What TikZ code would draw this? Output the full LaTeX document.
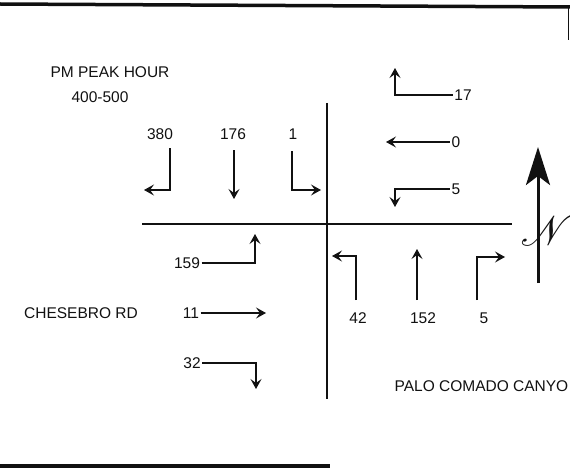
\documentclass[tikz,border=0pt]{standalone}
\usepackage{fontspec}
\setmainfont{Liberation Sans}
\usepackage{mathrsfs}
\usetikzlibrary{arrows.meta}
\definecolor{tcInk}{HTML}{111111}
\tikzset{
  tc diagram/.style={x=1pt, y=-1pt, font=\fontsize{15.5}{18}\selectfont, text=tcInk},
  tc road/.style={draw=tcInk, line width=2pt},
  tc border/.style={draw=tcInk, line width=3.5pt},
  tc move/.style={-{Stealth[length=10pt,width=11pt,inset=4pt]}, draw=tcInk, line width=1.1pt},
  tc label/.style={inner sep=1.5pt},
  tc north/.style={-{Stealth[length=38pt,width=24pt,inset=9pt]}, draw=tcInk, line width=3pt}
}

\begin{document}
\begin{tikzpicture}[tc diagram]
\useasboundingbox (0,0) rectangle (570,468);
% page edges
\draw[tc border] (0,4) -- (570,7);
\draw[tc border] (0,466) -- (330,466);
\draw[draw=tcInk, line width=1pt] (568,7) -- (568,40);
% the two roads
\draw[tc road] (327,103) -- (327,399);
\draw[tc road] (142,224) -- (512,224);
% titles and street names
\node[tc label] (title) at (110,72) {PM PEAK HOUR};
\node[tc label] (period) at (100,97) {400-500};
\node[tc label] (street) at (81,313) {CHESEBRO RD};
\node[tc label, anchor=east] (canyon) at (570,386) {PALO COMADO CANYO};
% turning volumes
\foreach \name/\x/\y/\lab in {l380/160/134/380, l176/233/134/176, l1/293/134/1,
    l17/463/95/17, l0/456/142/0, l5s/456/189/5,
    l159/187/263/159, l11/191/313/11, l32/192/363/32,
    l42/358/318/42, l152/423/318/152, l5n/484/318/5}
  \node[tc label] (\name) at (\x,\y) {\lab};
% southbound
\draw[tc move] (170,148) |- (144,190);
\draw[tc move] (234,150) -- (234,199);
\draw[tc move] (292,151) |- (321,190);
% westbound
\draw[tc move] (l17.west) -| (395,68);
\draw[tc move] (l0.west) -- (386,142);
\draw[tc move] (l5s.west) -| (395,207);
% eastbound
\draw[tc move] (l159.east) -| (255,234);
\draw[tc move] (l11.east) -- (266,313);
\draw[tc move] (l32.east) -| (256,389);
% northbound
\draw[tc move] (356,300) |- (332,256);
\draw[tc move] (417,300) -- (417,249);
\draw[tc move] (477,300) |- (505,257);
% north sign
\draw[tc north] (538,283) -- (538,147);
\node[scale=4.2] (northN) at (547,231) {\fontsize{10}{10}\selectfont$\mathscr{N}$};
\end{tikzpicture}
\end{document}
